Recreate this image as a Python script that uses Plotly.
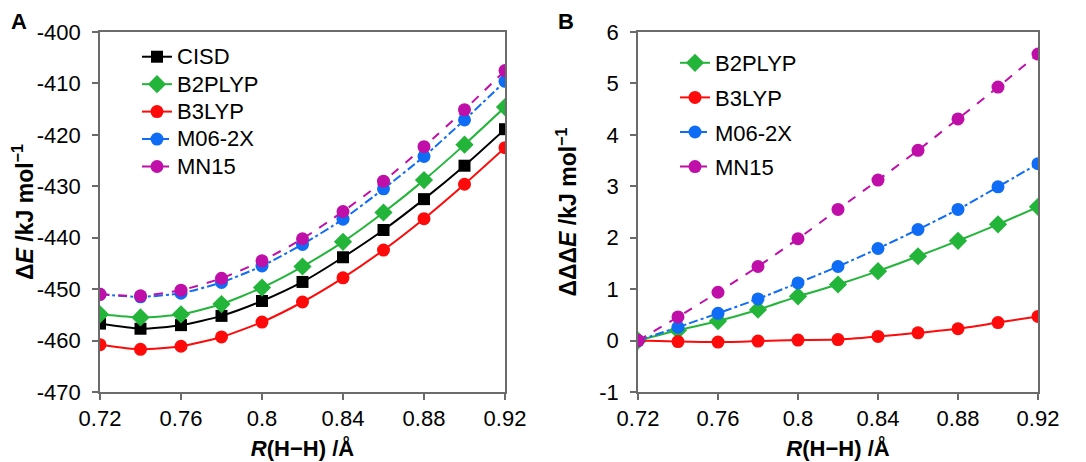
import plotly.graph_objects as go

R = [0.72, 0.74, 0.76, 0.78, 0.80, 0.82, 0.84, 0.86, 0.88, 0.90, 0.92]

# Panel A: ΔE (kJ/mol)
A_CISD = [-456.7, -457.7, -457.0, -455.2, -452.3, -448.6, -443.8, -438.5, -432.5, -426.0, -418.9]
A_B2PLYP = [-454.9, -455.5, -454.9, -452.9, -449.7, -445.6, -440.8, -435.1, -428.8, -421.9, -414.6]
A_B3LYP = [-460.8, -461.7, -461.1, -459.3, -456.4, -452.5, -447.8, -442.4, -436.3, -429.6, -422.5]
A_M062X = [-451.0, -451.5, -450.8, -448.7, -445.5, -441.3, -436.4, -430.5, -424.2, -417.1, -409.6]
A_MN15 = [-451.0, -451.3, -450.2, -447.9, -444.5, -440.2, -434.9, -429.0, -422.3, -415.1, -407.5]

# Panel B: ΔΔΔE (kJ/mol)
B_B2PLYP = [0.0, 0.20, 0.38, 0.60, 0.86, 1.09, 1.35, 1.64, 1.94, 2.26, 2.60]
B_B3LYP = [0.0, -0.02, -0.03, -0.01, 0.01, 0.02, 0.08, 0.15, 0.23, 0.35, 0.47]
B_M062X = [0.0, 0.26, 0.53, 0.81, 1.12, 1.44, 1.79, 2.16, 2.55, 2.99, 3.44]
B_MN15 = [0.0, 0.46, 0.94, 1.44, 1.98, 2.55, 3.12, 3.70, 4.31, 4.93, 5.57]

x_tickvals = [0.72, 0.76, 0.80, 0.84, 0.88, 0.92]
x_ticktext = ["0.72", "0.76", "0.8", "0.84", "0.88", "0.92"]
yA_tickvals = [-470, -460, -450, -440, -430, -420, -410, -400]
yA_ticktext = ["-470", "-460", "-450", "-440", "-430", "-420", "-410", "-400"]
yB_tickvals = [-1, 0, 1, 2, 3, 4, 5, 6]
yB_ticktext = ["-1", "0", "1", "2", "3", "4", "5", "6"]

BLACK = "#000000"
GREEN = "#22B53A"
RED = "#FF0A0A"
BLUE = "#0F6CF5"
MAG = "#BF0FA8"

FONT = "Liberation Sans, Arial, sans-serif"

fig = go.Figure()

def add(x, y, name, color, dash, symbol, size, xa, ya, legend, group, big=False):
    label = f'<span style="font-size:22px">{name}</span>' if big else name
    fig.add_trace(go.Scatter(
        x=x, y=y, name=label, mode="lines+markers",
        line=dict(color=color, width=2, dash=dash, shape="spline", smoothing=0.6),
        marker=dict(color=color, symbol=symbol, size=size, line=dict(width=0)),
        xaxis=xa, yaxis=ya, legend=legend, legendgroup=group,
    ))

add(R, A_CISD, "CISD", BLACK, "solid", "square", 12, "x", "y", "legend", "a1", True)
add(R, A_B2PLYP, "B2PLYP", GREEN, "solid", "diamond", 14, "x", "y", "legend", "a2", True)
add(R, A_B3LYP, "B3LYP", RED, "solid", "circle", 13, "x", "y", "legend", "a3", True)
add(R, A_M062X, "M06-2X", BLUE, "dashdot", "circle", 13, "x", "y", "legend", "a4", True)
add(R, A_MN15, "MN15", MAG, "dash", "circle", 13, "x", "y", "legend", "a5", True)

add(R, B_B2PLYP, "B2PLYP", GREEN, "solid", "diamond", 14, "x2", "y2", "legend2", "b2")
add(R, B_B3LYP, "B3LYP", RED, "solid", "circle", 13, "x2", "y2", "legend2", "b3")
add(R, B_M062X, "M06-2X", BLUE, "dashdot", "circle", 13, "x2", "y2", "legend2", "b4")
add(R, B_MN15, "MN15", MAG, "dash", "circle", 13, "x2", "y2", "legend2", "b5")

axis_common = dict(
    showline=True, linecolor="#6b6b6b", linewidth=1.5, mirror=True,
    ticks="outside", ticklen=6, tickcolor="#6b6b6b", tickwidth=1.5,
    showgrid=False, zeroline=False, automargin=False,
    tickfont=dict(family=FONT, size=22, color="#000"),
)
xtitle = dict(text="<b><i>R</i>(H\u2212H) /\u00c5</b>", font=dict(family=FONT, size=22, color="#000"), standoff=10)

# the page places the figure 8px from the top-left corner
W, H = 1078, 454
PH = 360
fig.update_layout(
    width=W, height=H,
    margin=dict(l=0, r=0, t=24, b=70),
    paper_bgcolor="white", plot_bgcolor="white",
    showlegend=True,
    xaxis=dict(domain=[92 / W, 497 / W], range=[0.72, 0.92], tickvals=x_tickvals, ticktext=x_ticktext,
               title=xtitle, anchor="y", **axis_common),
    yaxis=dict(domain=[0, 1], range=[-470, -400], tickvals=yA_tickvals, ticktext=yA_ticktext,
               ticklabelstandoff=7,
               title=dict(text="<b>\u0394<i>E</i> /kJ mol<sup>\u22121</sup></b>",
                          font=dict(family=FONT, size=23, color="#000"), standoff=6),
               anchor="x", **axis_common),
    xaxis2=dict(domain=[630 / W, 1030 / W], range=[0.72, 0.92], tickvals=x_tickvals, ticktext=x_ticktext,
                title=xtitle, anchor="y2", **axis_common),
    yaxis2=dict(domain=[0, 1], range=[-1, 6], tickvals=yB_tickvals, ticktext=yB_ticktext,
                ticklabelstandoff=7,
                title=dict(text="<b>\u0394\u0394\u0394<i>E</i> /kJ mol<sup>\u22121</sup></b>",
                           font=dict(family=FONT, size=23, color="#000"), standoff=16),
                anchor="x2", **axis_common),
    legend=dict(x=129 / W, y=1 - 6 / PH, xanchor="left", yanchor="top",
                font=dict(family=FONT, size=18.8, color="#000"), bgcolor="rgba(0,0,0,0)",
                traceorder="grouped", tracegroupgap=0, itemwidth=30),
    legend2=dict(x=667 / W, y=1 - 10 / PH, xanchor="left", yanchor="top",
                 font=dict(family=FONT, size=22, color="#000"), bgcolor="rgba(0,0,0,0)",
                 traceorder="grouped", tracegroupgap=3, itemwidth=30),
    annotations=[
        dict(text="<b>A</b>", x=11 / W, y=1 + 11 / PH, xref="paper", yref="paper", showarrow=False,
             xanchor="center", yanchor="middle", font=dict(family=FONT, size=22, color="#000")),
        dict(text="<b>B</b>", x=558 / W, y=1 + 11 / PH, xref="paper", yref="paper", showarrow=False,
             xanchor="center", yanchor="middle", font=dict(family=FONT, size=22, color="#000")),
    ],
)

fig.write_html("out.html")
